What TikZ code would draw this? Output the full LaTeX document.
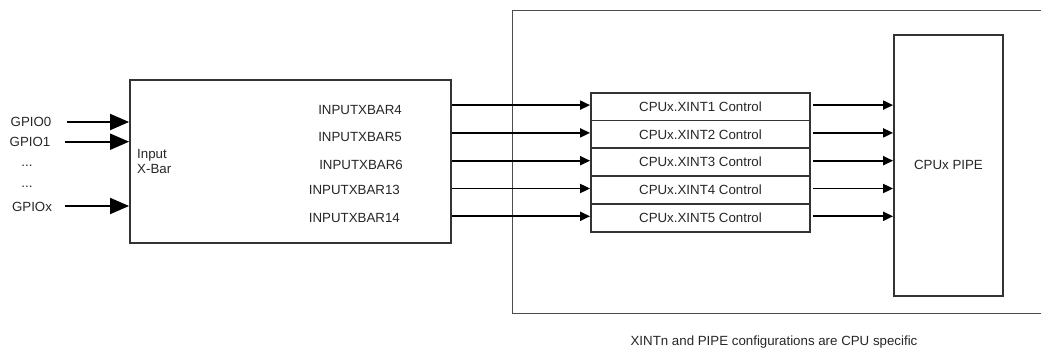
\documentclass[tikz,border=0pt]{standalone}
\usepackage{fontspec}
\setmainfont{Liberation Sans}
\usetikzlibrary{arrows.meta}
\begin{document}
\begin{tikzpicture}[x=1pt,y=-1pt,
  every node/.style={font=\fontsize{13.3}{15}\selectfont, text=black!85, inner sep=0pt},
  blk/.style={draw=black!80, line width=1.8pt, fill=white},
  ctrl/.style={blk, minimum width=219pt, minimum height=27.8pt},
  bigarr/.style={line width=1.8pt, -{Triangle[length=19pt,width=16pt]}},
  smallarr/.style={line width=1.8pt, -{Triangle[length=10pt,width=9pt]}},
  lbl/.style={anchor=center}]
\useasboundingbox (0,0) rectangle (1041,352);
% outer region (open on the right)
\draw[black!70, line width=1pt] (1045,11) -- (512,11) -- (512,314) -- (1045,314);
% Input X-Bar
\node[blk, minimum width=321pt, minimum height=163pt] (xbar) at (290.5,161.5) {};
\node[anchor=west, align=left] (xbarlbl) at (137,161) {Input\\X-Bar};
% GPIO inputs
\node[lbl] (g0) at (31,122) {GPIO0};
\node[lbl] (g1) at (30,142) {GPIO1};
\node[lbl] (d1) at (27,166) {...};
\node[lbl] (d2) at (27,187) {...};
\node[lbl] (gx) at (32,207) {GPIOx};
\coordinate (s0) at (67,122);
\coordinate (s1) at (65,141.7);
\coordinate (sx) at (65,206);
\draw[bigarr] (s0) -- (xbar.west |- s0);
\draw[bigarr] (s1) -- (xbar.west |- s1);
\draw[bigarr] (sx) -- (xbar.west |- sx);
% control boxes
\node[ctrl] (c1) at (700.5,106.6) {CPUx.XINT1 Control};
\node[ctrl] (c2) at (700.5,134.4) {CPUx.XINT2 Control};
\node[ctrl] (c3) at (700.5,162.2) {CPUx.XINT3 Control};
\node[ctrl] (c4) at (700.5,190.0) {CPUx.XINT4 Control};
\node[ctrl] (c5) at (700.5,217.8) {CPUx.XINT5 Control};
% PIPE
\node[blk, minimum width=109pt, minimum height=260.7pt] (pipe) at (948.5,165.4) {CPUx PIPE};
% INPUTXBAR labels
\node[anchor=east] (x4) at (402,110) {INPUTXBAR4};
\node[anchor=east] (x5) at (402,137) {INPUTXBAR5};
\node[anchor=east] (x6) at (403,165) {INPUTXBAR6};
\node[anchor=east] (x13) at (400,190) {INPUTXBAR13};
\node[anchor=east] (x14) at (400,218) {INPUTXBAR14};
% arrows xbar -> controls -> pipe
\foreach \c in {c1,c2,c3,c4,c5}{
  \draw[smallarr] ([yshift=1.5pt]xbar.east |- \c.west) -- ([yshift=1.5pt]\c.west);
  \draw[smallarr] ([xshift=2pt,yshift=1.5pt]\c.east) -- ([yshift=1.5pt]pipe.west |- \c.east);
}
% note
\node (note) at (774,342) {XINTn and PIPE configurations are CPU specific};
\end{tikzpicture}
\end{document}
